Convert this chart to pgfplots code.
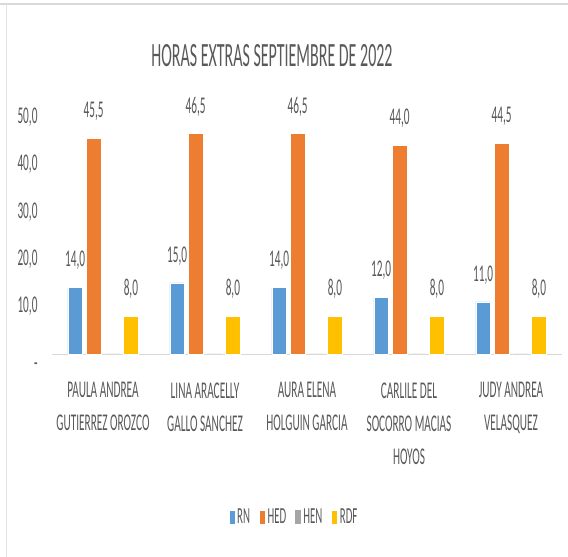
\documentclass[border=0pt]{standalone}
\usepackage{pgfplots}
\pgfplotsset{compat=1.18}
\usepackage{fontspec}
\setmainfont{Carlito}[FakeStretch=0.47]
\definecolor{cRN}{HTML}{5B9BD5}
\definecolor{cHED}{HTML}{ED7D31}
\definecolor{cHEN}{HTML}{A5A5A5}
\definecolor{cRDF}{HTML}{FFC000}
\definecolor{txt}{HTML}{595959}
\definecolor{frame}{HTML}{D9D9D9}
\begin{document}
\begin{tikzpicture}[x=1pt,y=1pt]
\useasboundingbox (0,0) rectangle (568,557);
\fill[white] (0,0) rectangle (568,557);
\draw[frame, line width=2.5pt] (0,553) -- (568,553);
\draw[frame!70!white, line width=1pt] (6.3,0) -- (6.3,553);
\node[txt, font=\fontsize{34}{37}\selectfont] at (272,501) {HORAS EXTRAS SEPTIEMBRE DE 2022};
\begin{axis}[
  at={(52pt,203pt)}, anchor=south west,
  scale only axis, width=510pt, height=237pt,
  xmin=-0.5, xmax=4.5, ymin=0, ymax=50,
  clip=false,
  ybar=4.1pt, bar width=14.5pt,
  axis y line*=none, axis x line*=bottom,
  axis line style={frame, line width=0.8pt},
  y axis line style={draw=none},
  x axis line style={-},
  major tick length=0pt,
  xtick={0,1,2,3,4},
  xticklabels={{PAULA ANDREA\\GUTIERREZ OROZCO},{LINA ARACELLY\\GALLO SANCHEZ},{AURA ELENA\\HOLGUIN GARCIA},{CARLILE DEL\\SOCORRO MACIAS\\HOYOS},{JUDY ANDREA\\VELASQUEZ}},
  xticklabel style={align=center, font=\fontsize{24}{33}\selectfont, text=txt, yshift=-25pt},
  ytick={0,10,20,30,40,50},
  yticklabels={{\raisebox{-17pt}[0pt][0pt]{-}},{10,0},{20,0},{30,0},{40,0},{50,0}},
  yticklabel style={font=\fontsize{24}{26}\selectfont, text=txt, xshift=-11pt},
  nodes near coords style={font=\fontsize{24}{26}\selectfont, text=txt, anchor=center, yshift=27pt,
    /pgf/number format/.cd, fixed, fixed zerofill, precision=1, use comma, assume math mode=true},
  legend columns=4,
  legend style={at={(0.4745,-0.688)}, anchor=center, draw=none, fill=none,
    font=\fontsize{23}{25}\selectfont, text=txt,
    /tikz/every even column/.append style={column sep=7pt},
    legend cell align=left},
  legsq/.style={legend image code/.code={\fill[##1] (0pt,-7pt) rectangle (6pt,7pt);}},
]
\addplot[fill=cRN, draw=white, line width=0.6pt, nodes near coords, legsq] coordinates {(0,14.0) (1,15.0) (2,14.0) (3,12.0) (4,11.0)};
\addlegendentry{RN}
\addplot[fill=cHED, draw=white, line width=0.6pt, nodes near coords, legsq] coordinates {(0,45.5) (1,46.5) (2,46.5) (3,44.0) (4,44.5)};
\addlegendentry{HED}
\addplot[fill=cHEN, draw=none, legsq] coordinates {(0,0) (1,0) (2,0) (3,0) (4,0)};
\addlegendentry{HEN}
\addplot[fill=cRDF, draw=white, line width=0.6pt, nodes near coords, legsq] coordinates {(0,8.0) (1,8.0) (2,8.0) (3,8.0) (4,8.0)};
\addlegendentry{RDF}
\end{axis}
\end{tikzpicture}
\end{document}
